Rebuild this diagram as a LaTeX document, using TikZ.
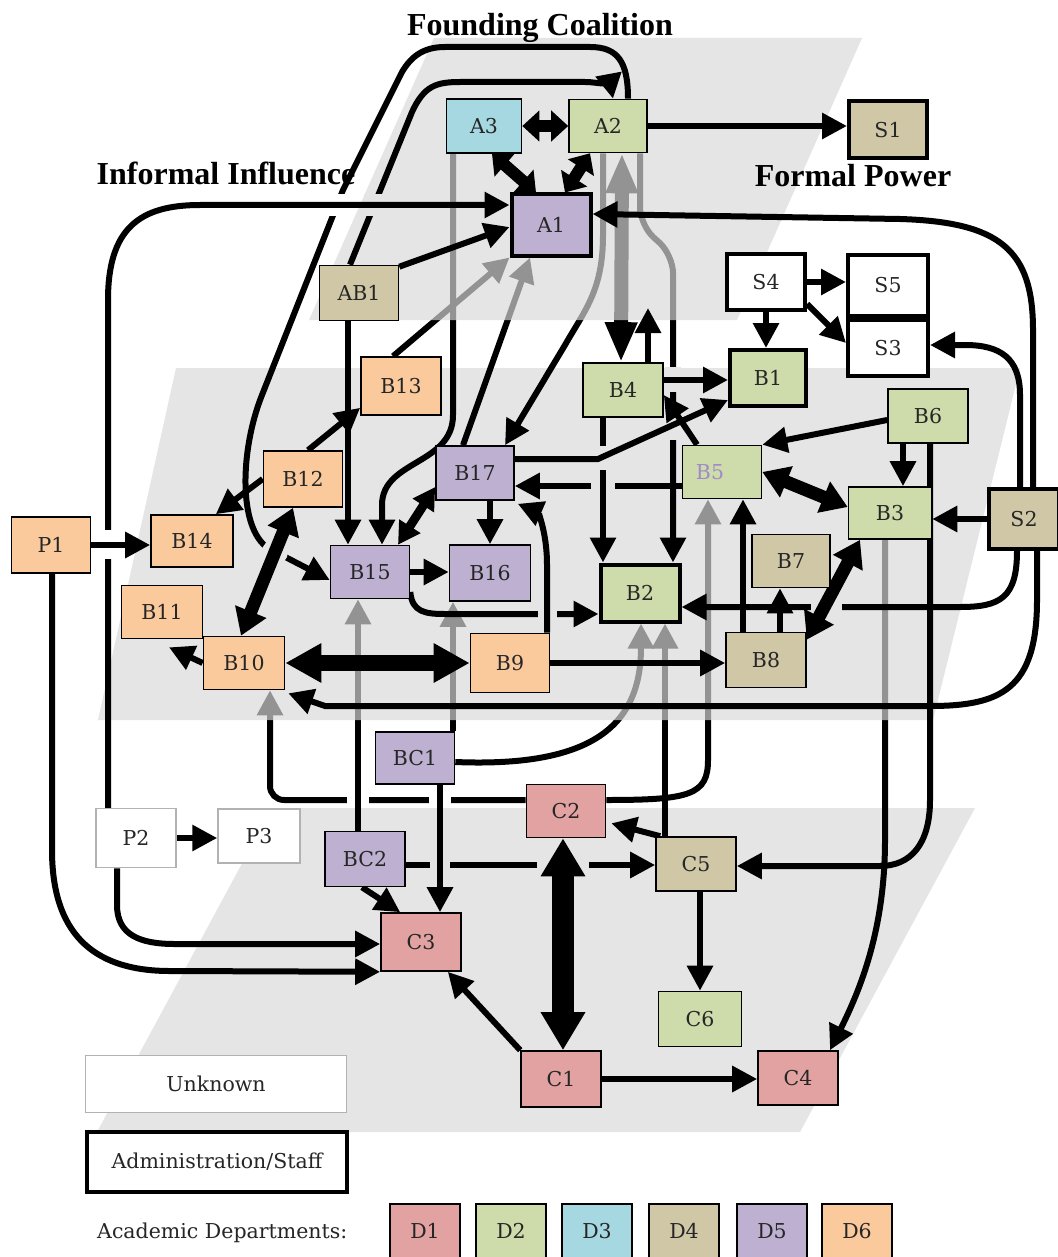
\documentclass[tikz,border=0pt]{standalone}
\usepackage{fontspec}
\setmainfont{DejaVu Serif}
\newfontfamily\titlefont{Liberation Serif}
\usetikzlibrary{arrows.meta}
\definecolor{dA}{RGB}{226,162,162}
\definecolor{dB}{RGB}{205,220,170}
\definecolor{dC}{RGB}{166,216,226}
\definecolor{dD}{RGB}{207,199,166}
\definecolor{dE}{RGB}{190,176,208}
\definecolor{dF}{RGB}{251,202,156}
\definecolor{bfive}{RGB}{160,138,200}
\definecolor{plane}{gray}{0.898}
\pgfdeclarelayer{lzero}
\pgfdeclarelayer{lone}
\pgfdeclarelayer{ltwo}
\pgfdeclarelayer{lthree}
\pgfdeclarelayer{lfour}
\pgfdeclarelayer{lfive}
\pgfsetlayers{lzero,lone,ltwo,lthree,lfour,lfive,main}
\begin{document}
\begin{tikzpicture}[x=1pt,y=-1pt,
  box/.style={draw=black, line width=1.6pt, inner sep=0pt, minimum width=80pt, minimum height=55pt,
    font=\fontsize{20.5}{24}\selectfont, text=black!85},
  adm/.style={line width=4pt},
  unk/.style={draw=black!30, fill=white, line width=1.5pt},
  ar/.style={line width=6pt, -{Triangle[length=25pt,width=25pt]}},
  dbl/.style={line width=13pt, {Triangle[length=26pt,width=32pt]}-{Triangle[length=26pt,width=32pt]}},
  dblS/.style={line width=12pt, {Triangle[length=17pt,width=30pt]}-{Triangle[length=17pt,width=30pt]}},
  dblM/.style={line width=9pt, {Triangle[length=22pt,width=24pt]}-{Triangle[length=22pt,width=24pt]}},
  dblL/.style={line width=16pt, {Triangle[length=36pt,width=37pt]}-{Triangle[length=36pt,width=37pt]}},
  dblG/.style={line width=14pt, {Triangle[length=40pt,width=30pt]}-{Triangle[length=40pt,width=30pt]}},
  huge/.style={line width=22pt, {Triangle[length=38pt,width=42pt]}-{Triangle[length=38pt,width=42pt]}},
  gapw/.style={fill=white},
  gapg/.style={fill=plane},
  ttl/.style={font=\titlefont\bfseries\fontsize{32}{36}\selectfont, anchor=base, inner sep=0pt}
]
\useasboundingbox (0,0) rectangle (1057,1257);

% ---------- nodes ----------
\node[box,fill=dC,minimum width=75pt,minimum height=54pt] (A3) at (484,126) {A3};
\node[box,fill=dB,minimum width=78pt,minimum height=53pt] (A2) at (608,126) {A2};
\node[box,adm,fill=dD,minimum width=78pt,minimum height=57pt] (S1) at (888,130) {S1};
\node[box,adm,fill=dE,minimum width=79pt,minimum height=61pt] (A1) at (551,225) {A1};
\node[box,fill=dD,minimum width=79pt,minimum height=55pt] (AB1) at (359,293) {AB1};
\node[box,adm,fill=white,minimum width=78pt,minimum height=56pt] (S4) at (766,282) {S4};
\node[box,adm,fill=white,minimum width=80pt,minimum height=61pt] (S5) at (888,285.5) {S5};
\node[box,adm,fill=white,minimum width=80pt,minimum height=56pt] (S3) at (888,348) {S3};
\node[box,adm,fill=dB,minimum width=76pt,minimum height=56pt] (B1) at (768,378) {B1};
\node[box,fill=dB,minimum width=80pt,minimum height=54pt] (B4) at (623,390) {B4};
\node[box,fill=dF,minimum width=80pt,minimum height=58pt] (B13) at (401,386) {B13};
\node[box,fill=dB,minimum width=80pt,minimum height=54pt] (B6) at (928,416) {B6};
\node[box,fill=dF,minimum width=79pt,minimum height=56pt] (B12) at (303,479) {B12};
\node[box,fill=dE,minimum width=78pt,minimum height=54pt] (B17) at (475,473) {B17};
\node[box,fill=dB,minimum width=79pt,minimum height=53pt,label={[text=bfive,xshift=-12pt,font=\fontsize{20.5}{24}\selectfont]center:B5}] (B5) at (722,472) {};
\node[box,fill=dB,minimum width=83pt,minimum height=52pt] (B3) at (890,513) {B3};
\node[box,adm,fill=dD,minimum width=70pt,minimum height=60pt] (S2) at (1024,519) {S2};
\node[box,fill=dF,minimum width=79pt,minimum height=56pt] (P1) at (51,545) {P1};
\node[box,fill=dF,minimum width=82pt,minimum height=52pt] (B14) at (192,541) {B14};
\node[box,fill=dE,minimum width=79pt,minimum height=53pt] (B15) at (370,572) {B15};
\node[box,fill=dE,minimum width=81pt,minimum height=56pt] (B16) at (490,573) {B16};
\node[box,fill=dD,minimum width=78pt,minimum height=53pt] (B7) at (791,561) {B7};
\node[box,adm,fill=dB,minimum width=79pt,minimum height=57pt] (B2) at (640,593) {B2};
\node[box,fill=dF,minimum width=81pt,minimum height=53pt] (B11) at (162,612) {B11};
\node[box,fill=dF,minimum width=81pt,minimum height=53pt] (B10) at (244,663) {B10};
\node[box,fill=dF,minimum width=79pt,minimum height=59pt] (B9) at (510,663) {B9};
\node[box,fill=dD,minimum width=80pt,minimum height=55pt] (B8) at (766,660) {B8};
\node[box,fill=dE,minimum width=79pt,minimum height=52pt] (BC1) at (415,758) {BC1};
\node[box,fill=dA,minimum width=79pt,minimum height=53pt] (C2) at (566,811) {C2};
\node[box,unk,minimum width=80pt,minimum height=59pt] (P2) at (136,838) {P2};
\node[box,unk,minimum width=82pt,minimum height=54pt] (P3) at (259,836) {P3};
\node[box,fill=dE,minimum width=80pt,minimum height=55pt] (BC2) at (365,859) {BC2};
\node[box,fill=dD,minimum width=80pt,minimum height=54pt] (C5) at (696,864) {C5};
\node[box,fill=dA,minimum width=80pt,minimum height=58pt] (C3) at (421,942) {C3};
\node[box,fill=dB,minimum width=83pt,minimum height=55pt] (C6) at (700,1019) {C6};
\node[box,fill=dA,minimum width=80pt,minimum height=56pt] (C1) at (561,1079) {C1};
\node[box,fill=dA,minimum width=80pt,minimum height=54pt] (C4) at (798,1078) {C4};

% ---------- legend ----------
\node[box,unk,minimum width=261pt,minimum height=57pt] (LU) at (216,1084) {Unknown};
\node[box,adm,fill=white,minimum width=260pt,minimum height=60pt] (LA) at (217,1162) {Administration/Staff};
\node[font=\fontsize{20.5}{24}\selectfont, text=black!85, anchor=base west, inner sep=0pt] (LD) at (97,1238) {Academic Departments:};
\node[box,fill=dA,minimum width=70pt,minimum height=54pt] (D1) at (425,1231) {D1};
\node[box,fill=dB,minimum width=70pt,minimum height=54pt] (D2) at (511,1231) {D2};
\node[box,fill=dC,minimum width=70pt,minimum height=54pt] (D3) at (597,1231) {D3};
\node[box,fill=dD,minimum width=70pt,minimum height=54pt] (D4) at (684,1231) {D4};
\node[box,fill=dE,minimum width=70pt,minimum height=54pt] (D5) at (772,1231) {D5};
\node[box,fill=dF,minimum width=70pt,minimum height=54pt] (D6) at (857,1231) {D6};

% ---------- titles ----------
\node[ttl] (T1) at (540,36) {Founding Coalition};
\node[ttl] (T2) at (226,185) {Informal Influence};
\node[ttl] (T3) at (853,187) {Formal Power};

% ---------- background and bottom plane ----------
\begin{pgfonlayer}{lzero}
\fill[white] (0,0) rectangle (1057,1257);
\fill[plane] (272,808) -- (975,808) -- (800,1132) -- (97,1132) -- cycle;
\end{pgfonlayer}

% ---------- edges passing behind the middle plane ----------
\begin{pgfonlayer}{lone}
\draw[ar,rounded corners=14pt] ([yshift=11]C2.west) -- (270,800) -- ([xshift=26]B10.south);
\fill[gapw] (347,793) rectangle (369,807);
\fill[gapw] (429,793) rectangle (451,807);
\draw[ar] ([xshift=-7]BC2.north) -- ([xshift=-12]B15.south);
\draw[ar] ([xshift=38]BC1.north) -- ([xshift=-37]B16.south);
\draw[ar] ([yshift=-4]BC1.east) .. controls (600,768) and (641,720) .. ([xshift=1]B2.south);
\draw[ar] ([xshift=-31]C5.north) -- ([xshift=25]B2.south);
\draw[ar] ([yshift=11]C2.east) .. controls (690,800) and (708,795) .. (708,760) -- ([xshift=-14]B5.south);
\draw[ar] ([xshift=-5]B3.south) -- (885,840) .. controls (885,930) and (860,990) .. ([xshift=32]C4.north);
\end{pgfonlayer}

% ---------- middle plane ----------
\begin{pgfonlayer}{ltwo}
\fill[black!15, opacity=0.68] (176,368) -- (1020,368) -- (933,720) -- (98,720) -- cycle;
\end{pgfonlayer}

% ---------- edges passing behind the top plane ----------
\begin{pgfonlayer}{lthree}
\draw[ar] ([xshift=-8]B13.north) -- (A1.south west);
\draw[ar] ([xshift=-12]B17.north) -- ([xshift=-21]A1.south);
\draw[dblG] ([xshift=14]A2.south) -- ([xshift=-2]B4.north);
\draw[ar] ([xshift=-5]A2.south) -- (603,235) .. controls (603,290) and (585,310) .. (565,345) -- ([xshift=30]B17.north);
\draw[ar,rounded corners=18pt] ([xshift=32]A2.south) -- (640,225) -- (673,255) -- ([xshift=33]B2.north);
\draw[ar] ([xshift=-31]A3.south) -- (453,415) .. controls (453,465) and (382,460) .. (382,505) -- ([xshift=12]B15.north);
\end{pgfonlayer}

% ---------- top plane ----------
\begin{pgfonlayer}{lfour}
\fill[black!15, opacity=0.68] (434,38) -- (862,38) -- (737,320) -- (309,320) -- cycle;
\end{pgfonlayer}

% ---------- edges on top ----------
\begin{pgfonlayer}{lfive}
% gaps in the A2-B2 line
\fill[gapg] (665,367) rectangle (681,392);
\fill[gapg] (665,413) rectangle (681,440);
\draw[dblS] (A3.east) -- (A2.west);
\draw[dblS] ([xshift=8]A3.south) -- ([xshift=-15]A1.north);
\draw[dblS] ([xshift=-18]A2.south) -- ([xshift=14]A1.north);
\draw[ar] (A2.east) -- (A2.east -| S1.west);
\draw[ar] ([xshift=-9]AB1.north) -- (412,112) .. controls (424,86) and (436,82) .. (460,82) -- (585,82) .. controls (600,82) and (611,88) .. ([xshift=5]A2.north);
\draw[ar] ([xshift=20]A2.north) .. controls (628,62) and (618,47) .. (590,47) -- (445,47) .. controls (425,47) and (412,55) .. (402,72) -- (343,190) -- (262,395) .. controls (240,450) and (238,528) .. (268,548) -- ([yshift=-8]B15.west);
\fill[gapw] (326,194) rectangle (348,216);
\fill[gapg] (364,194) rectangle (385,216);
\fill[gapg] (275,552) circle (13);
\draw[ar] ([xshift=-28]P2.north) -- (108,300) .. controls (108,228) and (140,205) .. (200,205) -- ([yshift=20]A1.west);
\draw[ar] ([yshift=-2]AB1.north east) -- ([yshift=-2]A1.west);
\draw[ar] ([xshift=9]S2.north) -- (1033,330) .. controls (1033,250) and (1000,222) .. (900,219) -- ([yshift=11]A1.east);
\draw[ar] ([xshift=-4]S2.north) -- (1020,395) .. controls (1020,358) and (1000,345) .. (965,345) -- ([yshift=3]S3.east);
\draw[ar] (S2.west) -- (S2.west -| B3.east);
\draw[ar] ([xshift=-7]S2.south) .. controls (1017,598) and (1000,607) .. (960,607) -- ([yshift=-14]B2.east);
\fill[gapg] (811,597) rectangle (842,617);
\draw[ar] ([xshift=13]S2.south) -- (1037,600) .. controls (1037,690) and (1000,706) .. (930,706) -- (325,706) -- ([xshift=3,yshift=-3]B10.south east);
\draw[ar] (S4.east) -- (S4.east -| S5.west);
\draw[ar] ([yshift=-22]S4.east) -- ([yshift=5]S3.west);
\draw[ar] (S4.south) -- (S4.south |- B1.north);
\draw[ar] ([yshift=10]B4.east) -- ([yshift=10]B4.east -| B1.west);
\coordinate (b4up) at (648,308);
\draw[ar] ([xshift=25]B4.north) -- (b4up);
\draw[ar] ([yshift=-14]B5.west) -- ([yshift=-14]B5.west -| B17.east);
\fill[gapg] (591,477) rectangle (615,495);
\draw[ar] ([xshift=-20]B4.south) -- ([xshift=-20]B4.south |- B2.north);
\fill[gapg] (596,446) rectangle (610,470);
\draw[ar] ([yshift=14]B17.east) -- (598,459) -- ([yshift=8]B1.south west);
\draw[ar] ([xshift=-25]B5.north) -- ([yshift=-5]B4.east);
\draw[ar] ([yshift=-4]B6.west) -- (B5.north east);
\draw[ar] ([xshift=-25]B6.south) -- ([xshift=-25]B6.south |- B3.north);
\draw[dbl] (B5.east) -- ([yshift=6]B3.west);
\draw[dbl] ([yshift=-8]B8.north east) -- ([xshift=-30]B3.south);
\draw[ar] ([xshift=14]B8.north) -- ([xshift=14]B8.north |- B7.south);
\draw[ar] ([xshift=-23]B8.north) -- ([xshift=-23]B8.north |- B5.south);
\draw[ar] (B9.east) -- (B9.east -| B8.west);
\draw[ar] ([yshift=-20]B15.east) .. controls (412,612) and (425,614) .. (445,614) -- ([yshift=-21]B2.west);
\fill[gapg] (538,606) rectangle (557,622);
\draw[ar] ([xshift=37]B9.north) -- (547,565) .. controls (547,530) and (537,512) .. ([xshift=3,yshift=-3]B17.south east);
\draw[ar] (B15.east) -- (B15.east -| B16.west);
\draw[ar] ([xshift=15]B17.south) -- ([xshift=15]B17.south |- B16.north);
\draw[dblM] ([yshift=-14]B17.west) -- ([xshift=28]B15.north);
\draw[ar] ([xshift=-11]AB1.south) -- ([xshift=-11]AB1.south |- B15.north);
\draw[ar] ([xshift=5]B12.north) -- ([yshift=8]B13.south west);
\draw[ar] (B12.west) -- ([xshift=-18]B14.north east);
\draw[dbl] ([xshift=-10]B12.south) -- ([xshift=-3]B10.north);
\draw[ar] (B10.west) -- ([xshift=7,yshift=-8]B11.south);
\draw[dblL] (B10.east) -- (B9.west);
\fill[gapw] (99,530) rectangle (117,559);
\draw[ar] (P1.east) -- (P1.east -| B14.west);
\draw[ar] ([xshift=1]P1.south) -- (52,850) .. controls (52,940) and (100,971) .. (170,971) -- (C3.south west);
\draw[ar] ([xshift=-19]P2.south) -- (117,905) .. controls (117,935) and (140,944) .. (175,944) -- ([yshift=-2]C3.west);
\draw[ar] (P2.east) -- (P2.east -| P3.west);
\draw[ar] ([xshift=-3]BC2.south) -- ([xshift=20]C3.north west);
\draw[ar] ([yshift=-6]BC2.east) -- ([yshift=-6]BC2.east -| C5.west);
\fill[gapg] (430,856) rectangle (450,874);
\fill[gapg] (537,856) rectangle (589,874);
\draw[ar] ([xshift=25]BC1.south) -- ([xshift=25]BC1.south |- C3.north);
\draw[huge] ([xshift=2]C1.north) -- ([xshift=2]C1.north |- C2.south);
\draw[ar] ([xshift=5]C5.north west) -- ([xshift=5,yshift=15]C2.south east);
\draw[ar] (C1.east) -- (C1.east -| C4.west);
\draw[ar] (C1.north west) -- ([xshift=-14]C3.south east);
\draw[ar] ([xshift=4]C5.south) -- ([xshift=4]C5.south |- C6.north);
\draw[ar] ([xshift=2]B6.south) -- (930,800) .. controls (930,845) and (910,866) .. (880,866) -- ([yshift=-2]C5.east);
\end{pgfonlayer}
\end{tikzpicture}
\end{document}
